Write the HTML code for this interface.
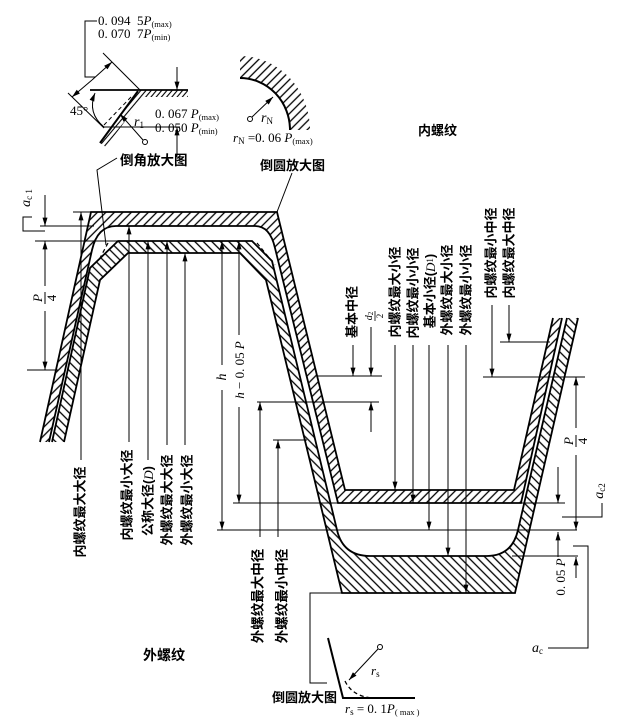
<!DOCTYPE html>
<html><head><meta charset="utf-8">
<style>
html,body{margin:0;padding:0;background:#fff;}
svg{display:block;}
.cn{font-family:"Liberation Sans","Noto Sans CJK SC",sans-serif;font-weight:bold;}
.se{font-family:"Liberation Serif",serif;white-space:pre;}
</style></head><body>
<svg width="619" height="723" viewBox="0 0 619 723" xmlns="http://www.w3.org/2000/svg">
<defs>
<pattern id="hI" patternUnits="userSpaceOnUse" width="6" height="6" patternTransform="rotate(45)"><line x1="3" y1="0" x2="3" y2="6" stroke="#000" stroke-width="1.3"/></pattern>
<pattern id="hE" patternUnits="userSpaceOnUse" width="6" height="6" patternTransform="rotate(-45)"><line x1="3" y1="0" x2="3" y2="6" stroke="#000" stroke-width="1.3"/></pattern>
<pattern id="hS" patternUnits="userSpaceOnUse" width="4" height="4" patternTransform="rotate(40)"><line x1="2" y1="0" x2="2" y2="4" stroke="#000" stroke-width="1.1"/></pattern>
<marker id="a" viewBox="0 0 10 6" refX="10" refY="3" markerWidth="9" markerHeight="5" markerUnits="userSpaceOnUse" orient="auto"><path d="M0,0 L10,3 L0,6 Z" fill="#000"/></marker>
<marker id="as" viewBox="0 0 10 6" refX="10" refY="3" markerWidth="9" markerHeight="5" markerUnits="userSpaceOnUse" orient="auto-start-reverse"><path d="M0,0 L10,3 L0,6 Z" fill="#000"/></marker>
</defs>

<!-- ribbons fill -->
<path d="M40,442 L91,212 L277,212 L345,490 L514,490 L553,318 L562,318 L521,503 L338,503 L275,248 Q270,226 255,226 L116,226 Q97.5,226 92,250 L49,442 Z" fill="url(#hI)"/>
<path d="M52,442 L90,268 L118,241 L252,241 L272,261 L337,530 Q343,556 370,556 L487,556 Q512,556 518,530 L567,318 L578,318 L515,593 L342,593 L266,280 L240,253 L128,253 L100,280 L64,442 Z" fill="url(#hE)"/>

<g fill="none" stroke="#000" stroke-width="1.8" stroke-linejoin="miter">
<path d="M40,442 L91,212 L277,212 L345,490 L514,490 L553,318"/>
<path d="M49,442 L92,250 Q97.5,226 116,226 L255,226 Q270,226 275,248 L338,503 L521,503 L562,318"/>
<path d="M52,442 L90,268 L118,241 L252,241 L272,261 L337,530 Q343,556 370,556 L487,556 Q512,556 518,530 L567,318"/>
<path d="M64,442 L100,280 L128,253 L240,253 L266,280 L342,593 L515,593 L578,318"/>
</g>
<g fill="none" stroke="#000" stroke-width="1.2" stroke-dasharray="4,3">
<path d="M108,243 L100,258"/>
<path d="M257,243 L275,265"/>
</g>

<!-- dimension / leader lines -->
<g fill="none" stroke="#000" stroke-width="1">
<path d="M45,195 L45,226" marker-end="url(#a)"/>
<path d="M45,286 L45,241" marker-end="url(#a)"/>
<path d="M45,311 L45,370" marker-end="url(#a)"/>
<path d="M40,226 H94"/>
<path d="M35,241 H118"/>
<path d="M73,212 H91"/>
<path d="M27,370 H58"/>
<path d="M32,217 H23 V231 H45"/>

<path d="M81,460 V212" marker-end="url(#a)"/>
<path d="M129,442 V226" marker-end="url(#a)"/>
<path d="M148,460 V241" marker-end="url(#a)"/>
<path d="M167,445 V241" marker-end="url(#a)"/>
<path d="M185,445 V253" marker-end="url(#a)"/>

<path d="M222,365 V241" marker-end="url(#a)"/>
<path d="M222,390 V530" marker-end="url(#a)"/>
<path d="M239,335 V241" marker-end="url(#a)"/>
<path d="M239,407 V503" marker-end="url(#a)"/>
<path d="M217,530 H577"/>
<path d="M233,503 H565"/>

<path d="M257,402 H379"/>
<path d="M273,440 H307"/>
<path d="M260,537 V402" marker-end="url(#a)"/>
<path d="M278,537 V440" marker-end="url(#a)"/>
<path d="M317,376 H382"/>
<path d="M353,345 V376" marker-end="url(#a)"/>
<path d="M371,327 V376" marker-end="url(#a)"/>
<path d="M371,432 V402" marker-end="url(#a)"/>
<path d="M395,345 V490" marker-end="url(#a)"/>
<path d="M413,345 V503" marker-end="url(#a)"/>
<path d="M429,345 V530" marker-end="url(#a)"/>
<path d="M448,345 V556" marker-end="url(#a)"/>
<path d="M466,345 V593" marker-end="url(#a)"/>
<path d="M492,305 V377" marker-end="url(#a)"/>
<path d="M509,305 V342" marker-end="url(#a)"/>
<path d="M483,377 H585"/>
<path d="M500,342 H550"/>

<path d="M576,428 V377" marker-end="url(#a)"/>
<path d="M576,455 V530" marker-end="url(#a)"/>
<path d="M558,467 V503" marker-end="url(#a)"/>
<path d="M558,557 V532" marker-end="url(#a)"/>
<path d="M576,578 V557" marker-end="url(#a)"/>
<path d="M512,556 H578"/>
<path d="M602,503 V517 H562"/>
<path d="M573,546 H588 V648 H548"/>

<path d="M342,593 H310 V683 H327"/>

<!-- top-left detail -->
<path d="M97,21 H85 V77 H95"/>
<path d="M92,80 L112,62" marker-end="url(#a)"/>
<path d="M92,80 L72,97" marker-end="url(#a)"/>
<path d="M103,53 L140,90"/>
<path d="M68,93 L104,128"/>
<path d="M104,127 H180"/>
<path d="M177,67 V90" marker-end="url(#a)"/>
<path d="M177,157 V127" marker-end="url(#a)"/>
<path d="M104,127 Q87,113 95,93" marker-end="url(#a)"/>
<path d="M143,140 L120,114" marker-end="url(#a)"/>
<path d="M117,158 L97,170 L106,245"/>
<path d="M131,97 L104,125" stroke-dasharray="4,3"/>

<!-- top-right detail -->
<path d="M252,117 L273,97" marker-end="url(#a)"/>
<path d="M292,173 L277,212"/>

<!-- bottom detail -->
<path d="M378,649 L349,680" marker-end="url(#a)"/>
<path d="M345,681 Q352,696 372,698" stroke-dasharray="4,3" stroke-width="1.3"/>
</g>

<!-- top-left detail shapes -->
<path d="M138,90 L188,90 L188,97 L143,97 L106,147 L100,143 Z" fill="url(#hS)"/>
<path d="M90,90 H188" stroke="#000" stroke-width="1.8"/>
<path d="M138,91 L100,143" stroke="#000" stroke-width="2"/>
<circle cx="145" cy="142" r="2.5" fill="#fff" stroke="#000" stroke-width="1"/>

<!-- top-right detail shapes -->
<path d="M240,78 A50,52 0 0 1 290,130 L310,130 A70,74 0 0 0 240,56 Z" fill="url(#hI)"/>
<path d="M240,78 A50,52 0 0 1 290,130" fill="none" stroke="#000" stroke-width="2"/>
<circle cx="250" cy="119" r="2.5" fill="#fff" stroke="#000" stroke-width="1"/>

<!-- bottom detail shapes -->
<path d="M328,638 L343,698 H415" fill="none" stroke="#000" stroke-width="2"/>
<circle cx="380" cy="647" r="2.5" fill="#fff" stroke="#000" stroke-width="1"/>

<!-- horizontal texts -->
<text class="se" x="98" y="25" font-size="13">0. 094  5<tspan font-style="italic">P</tspan><tspan font-size="8.5" dy="2">(max)</tspan></text>
<text class="se" x="98" y="38" font-size="13">0. 070  7<tspan font-style="italic">P</tspan><tspan font-size="8.5" dy="2">(min)</tspan></text>
<text class="se" x="70" y="115" font-size="13">45°</text>
<text class="se" x="155" y="118" font-size="13">0. 067 <tspan font-style="italic">P</tspan><tspan font-size="8.5" dy="2">(max)</tspan></text>
<text class="se" x="155" y="132" font-size="13">0. 050 <tspan font-style="italic">P</tspan><tspan font-size="8.5" dy="2">(min)</tspan></text>
<text class="se" x="134" y="126" font-size="14"><tspan font-style="italic">r</tspan><tspan font-size="9" dy="2">1</tspan></text>
<text class="cn" x="120" y="165" font-size="13.5">倒角放大图</text>

<text class="se" x="261" y="122" font-size="14"><tspan font-style="italic">r</tspan><tspan font-size="9" dy="2">N</tspan></text>
<text class="se" x="233" y="142" font-size="13"><tspan font-style="italic">r</tspan><tspan font-size="9" dy="2">N</tspan><tspan dy="-2"> =0. 06 </tspan><tspan font-style="italic">P</tspan><tspan font-size="8.5" dy="2">(max)</tspan></text>
<text class="cn" x="260" y="170" font-size="13">倒圆放大图</text>
<text class="cn" x="418" y="135" font-size="13">内螺纹</text>

<text class="cn" x="143" y="660" font-size="14">外螺纹</text>
<text class="cn" x="272" y="702" font-size="13">倒圆放大图</text>
<text class="se" x="371" y="675" font-size="13"><tspan font-style="italic">r</tspan><tspan font-size="9" dy="2">s</tspan></text>
<text class="se" x="345" y="713" font-size="13"><tspan font-style="italic">r</tspan><tspan font-size="9" dy="2">s</tspan><tspan dy="-2"> = 0. 1</tspan><tspan font-style="italic">P</tspan><tspan font-size="8.5" dy="2">( max )</tspan></text>
<text class="se" x="532" y="652" font-size="14"><tspan font-style="italic">a</tspan><tspan font-size="9" dy="2">c</tspan></text>

<!-- rotated numeric labels -->
<text class="se" font-size="14" transform="translate(30,198) rotate(-90)" text-anchor="middle"><tspan font-style="italic">a</tspan><tspan font-size="9" dy="2">c 1</tspan></text>
<g transform="translate(45,298) rotate(-90)">
<text class="se" x="0" y="-3" font-size="13" font-style="italic" text-anchor="middle">P</text>
<line x1="-6" y1="0" x2="6" y2="0" stroke="#000" stroke-width="1"/>
<text class="se" x="0" y="11" font-size="13" text-anchor="middle">4</text>
</g>
<text class="se" font-size="14" font-style="italic" transform="translate(226,377) rotate(-90)" text-anchor="middle">h</text>
<text class="se" font-size="13" transform="translate(244,370) rotate(-90)" text-anchor="middle"><tspan font-style="italic">h</tspan> − 0. 05 <tspan font-style="italic">P</tspan></text>
<g transform="translate(375,316) rotate(-90)">
<text class="se" x="0" y="-3" font-size="10" text-anchor="middle"><tspan font-style="italic">d</tspan><tspan font-size="7" dy="1">2</tspan></text>
<line x1="-5" y1="0" x2="5" y2="0" stroke="#000" stroke-width="0.8"/>
<text class="se" x="0" y="8" font-size="9" text-anchor="middle">2</text>
</g>
<g transform="translate(576,441) rotate(-90)">
<text class="se" x="0" y="-3" font-size="13" font-style="italic" text-anchor="middle">P</text>
<line x1="-6" y1="0" x2="6" y2="0" stroke="#000" stroke-width="1"/>
<text class="se" x="0" y="11" font-size="13" text-anchor="middle">4</text>
</g>
<text class="se" font-size="14" transform="translate(603,491) rotate(-90)" text-anchor="middle"><tspan font-style="italic">a</tspan><tspan font-size="9" dy="2">c2</tspan></text>
<text class="se" font-size="13" transform="translate(565,577) rotate(-90)" text-anchor="middle">0. 05 <tspan font-style="italic">P</tspan></text>

<!-- rotated CJK labels -->
<g class="cn" font-size="13" text-anchor="middle" dominant-baseline="central">
<text transform="translate(80,512) rotate(-90)">内螺纹最大大径</text>
<text transform="translate(127,495) rotate(-90)">内螺纹最小大径</text>
<text transform="translate(148,501) rotate(-90)">公称大径(<tspan font-family="Liberation Serif" font-style="italic" font-weight="normal">D</tspan>)</text>
<text transform="translate(167,500) rotate(-90)">外螺纹最大大径</text>
<text transform="translate(187,500) rotate(-90)">外螺纹最小大径</text>
<text transform="translate(258,596) rotate(-90)" font-size="13.5">外螺纹最大中径</text>
<text transform="translate(282,596) rotate(-90)" font-size="13.5">外螺纹最小中径</text>
<text transform="translate(352,312) rotate(-90)">基本中径</text>
<text transform="translate(395,292) rotate(-90)">内螺纹最大小径</text>
<text transform="translate(413,293) rotate(-90)">内螺纹最小小径</text>
<text transform="translate(430,291) rotate(-90)">基本小径(<tspan font-family="Liberation Serif" font-style="italic" font-weight="normal">D</tspan><tspan font-family="Liberation Serif" font-weight="normal" font-size="9">1</tspan>)</text>
<text transform="translate(447,290) rotate(-90)">外螺纹最大小径</text>
<text transform="translate(466,290) rotate(-90)">外螺纹最小小径</text>
<text transform="translate(491,253) rotate(-90)">内螺纹最小中径</text>
<text transform="translate(509,253) rotate(-90)">内螺纹最大中径</text>
</g>
</svg>
</body></html>
